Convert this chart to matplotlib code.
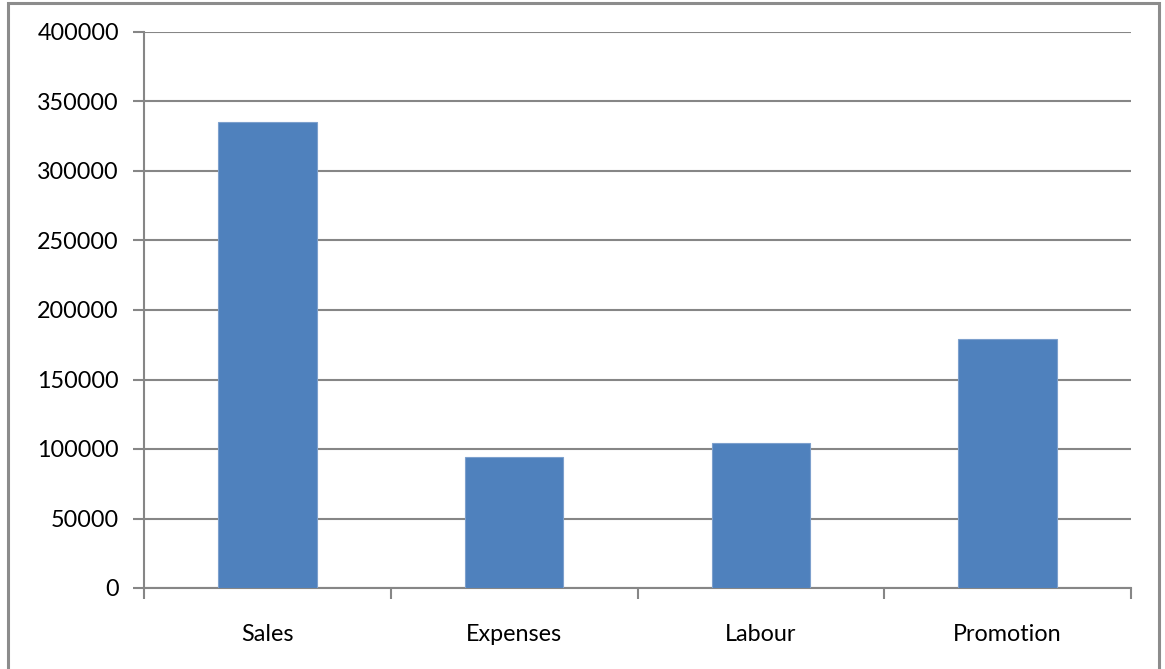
import numpy as np
import matplotlib
matplotlib.use('Agg')
import matplotlib.pyplot as plt
from matplotlib.patches import Rectangle

# Chart data
categories = ['Sales', 'Expenses', 'Labour', 'Promotion']
values = [335000, 94000, 104000, 179000]
yticks = np.arange(0, 400001, 50000)

plt.rcParams['font.family'] = ['Lato', 'DejaVu Sans']

fig = plt.figure(figsize=(11.65, 6.69), dpi=100)
W, H = 1165, 669

# Outer chart frame (bottom edge is cut off in the original)
fig.patches.append(Rectangle((8 / W, -0.05), (1159 - 8) / W, 1.05 - 3 / H,
                             transform=fig.transFigure, fill=False,
                             edgecolor='#8c8c8c', linewidth=2.2))

# Plot area
left, right, top, bottom = 144, 1131, 32, 588
ax = fig.add_axes([left / W, 1 - bottom / H, (right - left) / W, (bottom - top) / H])

x = np.arange(len(categories))
ax.bar(x, values, width=0.4, color='#4f81bd', edgecolor='#7da0cd', linewidth=0.8, zorder=3)

ax.set_xlim(-0.5, len(categories) - 0.5)
ax.set_ylim(0, 400000)

ax.set_yticks(yticks)
ax.set_yticklabels([str(v) for v in yticks], fontsize=16.8)
ax.set_xticks(x)
ax.set_xticklabels(categories, fontsize=16.8)
ax.tick_params(axis='x', length=0, pad=26)
ax.tick_params(axis='y', length=8, width=1.5, color='#868686', pad=10)

# x tick marks at category boundaries
ax.set_xticks(np.arange(-0.5, len(categories)), minor=True)
ax.tick_params(axis='x', which='minor', length=8, width=1.5, color='#868686')

# Gridlines
ax.grid(axis='y', color='#868686', linewidth=1.5, zorder=0)
ax.set_axisbelow(True)

for s in ['top', 'right']:
    ax.spines[s].set_visible(False)
for s in ['left', 'bottom']:
    ax.spines[s].set_color('#868686')
    ax.spines[s].set_linewidth(1.5)

fig.savefig('out.png', dpi=100)
